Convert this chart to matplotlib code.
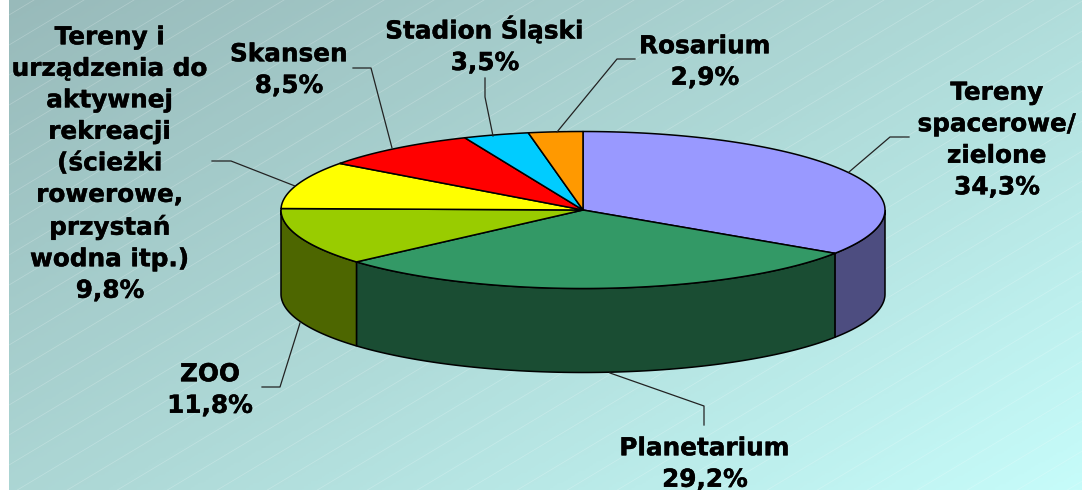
"""Udział atrakcji parku - wykres kołowy 3D (rysowany ręcznie na zwykłej osi)."""

import numpy as np
import matplotlib
matplotlib.use("Agg")
import matplotlib.pyplot as plt
import matplotlib.patheffects as pe
from matplotlib.colors import LinearSegmentedColormap
from matplotlib.patches import Polygon

WIDTH = 1082
HEIGHT = 490

# dane, kolejność zgodnie z ruchem wskazówek zegara od godziny 12
names = [
    "Tereny\nspacerowe/\nzielone",
    "Planetarium",
    "ZOO",
    "Tereny i\nurządzenia do\naktywnej\nrekreacji\n(ścieżki\nrowerowe,\nprzystań\nwodna itp.)",
    "Skansen",
    "Stadion Śląski",
    "Rosarium",
]
shares = [34.3, 29.2, 11.8, 9.8, 8.5, 3.5, 2.9]
top_colors = ["#9999ff", "#339966", "#99cc00", "#ffff00", "#ff0000", "#00ccff", "#ff9900"]
side_colors = ["#4d4d80", "#1a4d33", "#4d6600", "#808000", "#800000", "#006680", "#804d00"]

# pozycje etykiet i linii odniesienia (piksele)
label_pos = [(997, 140), (705, 464), (210, 390), (110, 164), (289, 70), (485, 45), (705, 62)]
leaders = [
    [(849, 172), (890, 137), (909, 137)],
    [(610, 373), (704, 406), (704, 425)],
    [(300, 323), (280, 387), (262, 387)],
    [(295, 186), (231, 161), (212, 161)],
    [(392, 148), (371, 68), (353, 68)],
    [(493, 136), (485, 97), (485, 78)],
    [(557, 132), (617, 59), (635, 59)],
]

CX, CY = 583, 210
RX, RY = 302, 78.5
DEPTH = 84


def rim(start, stop):
    """Punkty na obwodzie elipsy; kąty w stopniach od góry, zgodnie z zegarem."""
    ang = np.radians(np.linspace(start, stop, max(int(abs(stop - start)) * 2, 2)))
    return np.column_stack([CX + RX * np.sin(ang), CY - RY * np.cos(ang)])


fig = plt.figure(figsize=(WIDTH / 100, HEIGHT / 100), dpi=100, facecolor="white")
ax = fig.add_axes([0, 0, 1, 1])

# tło: gradient po przekątnej + jasne ukośne paski
xx, yy = np.meshgrid(np.linspace(0, 1, 300), np.linspace(0, 1, 200))
cmap = LinearSegmentedColormap.from_list("bg", ["#98baba", "#aed9d7", "#c6fcfa"])
ax.imshow((0.55 * xx + 0.45 * yy), extent=(9, WIDTH, HEIGHT, 0), cmap=cmap,
          aspect="auto", vmin=0, vmax=1, zorder=0)
for y0 in range(15, 1300, 30):
    ax.plot([9, WIDTH], [y0, y0 - (WIDTH - 9) * 0.6], color="white", lw=0.5,
            alpha=0.25, zorder=1)
ax.set_xlim(0, WIDTH)
ax.set_ylim(HEIGHT, 0)
ax.axis("off")

edges = np.cumsum([0] + shares) / sum(shares) * 360

# ściany boczne - widoczna tylko przednia połowa
for i in range(len(shares)):
    start = max(edges[i], 90)
    stop = min(edges[i + 1], 270)
    if start >= stop:
        continue
    upper = rim(start, stop)
    lower = upper[::-1] + [0, DEPTH]
    ax.add_patch(Polygon(np.vstack([upper, lower]), closed=True, fc=side_colors[i],
                         ec="black", lw=1.1, zorder=2))

# wierzch
for i in range(len(shares)):
    pts = np.vstack([[(CX, CY)], rim(edges[i], edges[i + 1])])
    ax.add_patch(Polygon(pts, closed=True, fc=top_colors[i], ec="black", lw=1.1,
                         joinstyle="round", zorder=3))

for line in leaders:
    xs, ys = zip(*line)
    ax.plot(xs, ys, color="#222222", lw=0.9, zorder=4)

for name, share, (lx, ly) in zip(names, shares, label_pos):
    text = name + "\n" + f"{share:.1f}%".replace(".", ",")
    ax.text(lx, ly, text, ha="center", va="center", ma="center", fontsize=17.8,
            fontweight="bold", family="DejaVu Sans", color="black", linespacing=1.395,
            zorder=5, path_effects=[pe.withStroke(linewidth=0.3, foreground="black")])

fig.savefig("out.png", dpi=100)
